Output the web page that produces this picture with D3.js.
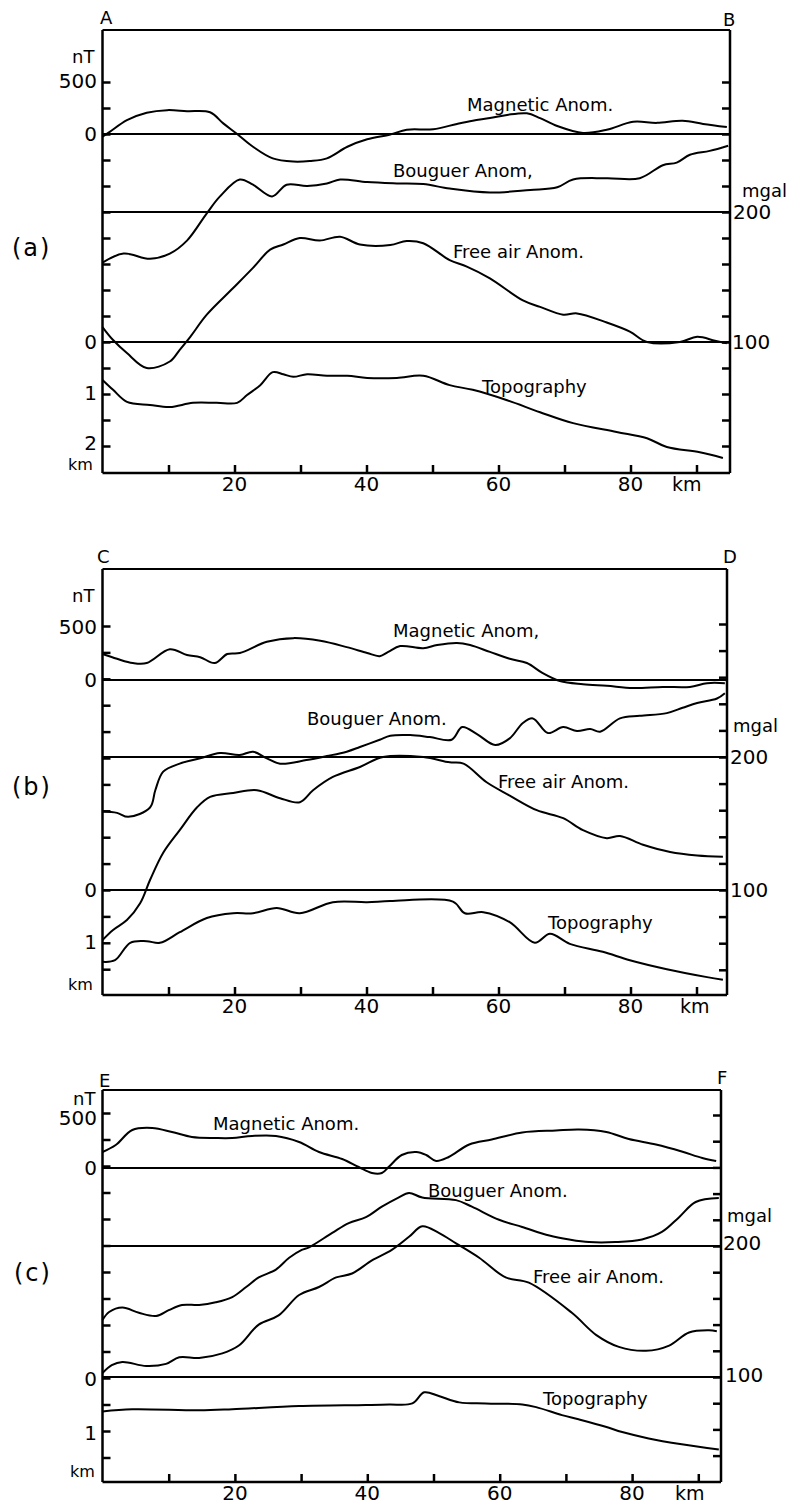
<!DOCTYPE html>
<html><head><meta charset="utf-8">
<script src="https://cdn.jsdelivr.net/npm/d3@7"></script>
<style>
body{margin:0;background:#fff}
svg text{font-family:"DejaVu Sans",sans-serif;fill:#000}
</style>
</head><body>
<svg id="chart" width="790" height="1505"></svg>
<script>
// ---------------- DATA (x in km along profile) ----------------
const xTickValues = [10,20,30,40,50,60,70,80,90];
const xTickLabels = [20,40,60,80];
const curveNamesA = ["Magnetic Anom.","Bouguer Anom,","Free air Anom.","Topography"];
const curveNamesB = ["Magnetic Anom,","Bouguer Anom.","Free air Anom.","Topography"];
const curveNamesC = ["Magnetic Anom.","Bouguer Anom.","Free air Anom.","Topography"];
const cornerLetters = [["A","B"],["C","D"],["E","F"]];
const panelTags = ["(a)","(b)","(c)"];

// Profile A-B
const magA = [[0,-25],[1.1,20],[3.7,130],[6.7,200],[9.8,225],[12.8,215],[16.3,205],[18.3,100],[20.4,0],[22.8,-120],[25.8,-230],[28.9,-260],[31.4,-255],[34.0,-230],[37.1,-120],[40.1,-50],[43.6,-5],[46.1,40],[50.1,45],[53.7,95],[56.1,125],[58.7,150],[61.3,180],[64.3,195],[66.3,150],[68.9,75],[72.8,10],[76.4,40],[80.4,115],[84.0,105],[87.9,125],[91.0,95],[94.6,65]];
const bougA = [[0,161],[3.2,168],[7.2,164],[10.2,168],[12.8,178],[15.8,199],[17.8,212],[20.8,225],[22.8,221],[25.7,212],[27.9,221],[31.0,220],[34.0,222],[36.0,225],[40.1,223],[44.6,222],[48.6,221.5],[52.6,218],[58.7,215],[64.8,217],[68.9,219],[71.3,225],[76.4,226],[81.4,226],[84.9,236],[87.0,238],[89.0,244],[92.0,247],[94.8,251]];
const freeA = [[0,111.5],[1.6,101.5],[3.7,91.5],[6.7,80],[10.2,85],[11.7,94],[13.3,104],[15.8,121],[19.8,141.5],[22.8,157],[25.4,171],[27.4,175],[29.9,180],[32.9,178],[36.0,181],[39.0,175],[43.6,174.6],[46.1,177.7],[48.6,176],[52.6,163],[55.2,158],[58.7,149],[63.7,132],[66.3,127],[69.8,121],[71.9,122],[76.4,115],[79.9,108],[82.5,100],[87.5,100],[90.1,104],[92.8,101],[94.6,99]];
const topoA = [[0,0.73],[1.6,0.92],[3.7,1.15],[7.2,1.21],[10.2,1.25],[13.7,1.17],[17.3,1.17],[20.4,1.17],[21.9,1.02],[23.9,0.83],[25.8,0.58],[27.4,0.62],[28.9,0.67],[31.0,0.62],[34.0,0.65],[37.1,0.65],[40.1,0.69],[44.6,0.69],[48.6,0.65],[52.6,0.83],[56.1,0.92],[61.3,1.12],[66.3,1.35],[71.3,1.56],[77.9,1.73],[82.5,1.85],[85.5,2.02],[90.5,2.12],[94.0,2.23]];

// Profile C-D
const magB = [[0,245],[2.2,200],[4.6,160],[6.7,160],[10.2,290],[12.8,235],[14.8,215],[17.0,160],[18.9,245],[20.8,255],[24.9,360],[28.9,395],[33.0,370],[37.0,310],[40.1,255],[42.0,225],[43.3,265],[45.1,320],[48.6,300],[50.7,330],[53.7,350],[55.7,330],[58.7,265],[61.7,200],[64.3,160],[66.7,65],[69.3,-10],[72.8,-40],[76.4,-55],[80.4,-75],[84.9,-65],[89.0,-65],[91.6,-30],[94.3,-30]];
const bougB = [[0,159],[2.2,158],[3.9,155],[7.2,162],[8.0,175],[9.2,189],[11.7,195],[14.8,199],[17.8,203],[20.8,201.5],[22.8,204],[24.9,199],[26.9,195],[30.9,197.7],[34.0,200.7],[37.0,204],[39.0,207.5],[42.0,213],[43.6,216],[46.6,216.5],[49.6,215],[52.9,213],[54.5,222.5],[56.8,217],[59.5,209],[61.7,214],[63.7,225.6],[65.2,229],[67.5,218],[69.8,222.5],[71.9,219.5],[73.9,221],[75.4,219],[78.4,229],[81.4,231],[85.5,233],[87.9,237],[90.1,240.6],[93.1,244],[94.3,248]];
const freeB = [[0,62.4],[1.6,70],[3.7,77.4],[5.7,90],[7.2,107.5],[9.2,128],[11.7,145],[14.3,162],[16.3,170],[19.8,173],[23.4,175],[26.9,169],[29.9,166],[31.9,175],[34.9,185],[39.0,192.5],[42.5,200],[48.6,200],[52.6,196],[54.7,195],[58.2,181],[61.7,171],[65.8,160],[69.8,154],[72.8,145],[76.4,139],[78.4,140.6],[81.9,134],[86.0,128.6],[90.1,126],[94.0,125]];
const topoB = [[0,1.36],[1.9,1.33],[4.2,1.0],[6.7,0.97],[8.7,1.0],[11.7,0.8],[15.8,0.53],[19.8,0.44],[22.8,0.44],[26.4,0.34],[29.9,0.44],[34.9,0.23],[40.1,0.23],[43.6,0.21],[53.1,0.22],[54.9,0.44],[57.7,0.42],[61.7,0.61],[65.5,1.0],[67.8,0.83],[70.8,1.02],[75.8,1.17],[79.9,1.33],[85.5,1.5],[91.6,1.65],[94.0,1.7]];

// Profile E-F
const magC = [[0,160],[2.0,230],[4.5,380],[7.5,400],[10.5,360],[13.5,310],[17.1,300],[19.6,300],[22.6,320],[26.2,320],[29.7,260],[32.7,160],[36.2,90],[38.7,10],[40.7,-50],[42.2,-50],[43.3,15],[45.2,130],[47.4,160],[48.9,130],[50.4,70],[52.3,110],[55.4,235],[58.8,285],[63.4,355],[68.5,375],[72.0,385],[76.1,360],[79.5,290],[83.6,235],[87.5,165],[90.6,100],[92.7,70]];
const bougC = [[0,143.5],[1.0,149.6],[3.0,153],[5.5,149],[8.1,146.6],[10.0,151],[12.0,155],[14.6,155],[17.1,157],[19.6,161],[21.7,168.7],[23.6,176],[26.2,182],[28.2,191],[30.1,197],[31.2,199],[34.7,210],[37.2,217.5],[39.8,222],[42.2,230],[44.7,237],[46.3,240.5],[48.3,237],[53.4,235],[55.8,230],[59.9,220],[63.4,214.5],[67.5,208],[70.5,205],[73.5,203],[77.5,203],[81.5,205],[84.5,210.7],[87.1,222],[89.6,233.6],[93.1,236.6]];
const freeC = [[0,103],[1.4,109],[3.0,111.5],[6.6,108.4],[9.6,110],[11.6,115],[14.6,114.5],[18.1,118],[20.6,124],[23.6,140],[26.6,147],[29.7,162.6],[32.7,168.7],[35.3,176],[37.7,179],[40.7,189],[43.7,197],[46.3,207],[48.3,215],[50.8,210],[53.4,202],[56.9,191],[60.9,176],[64.4,172],[70.9,149],[74.6,132],[78.0,123],[82.1,120],[85.6,124],[88.6,134],[91.6,135.6],[92.8,135]];
const topoC = [[0,0.63],[4.5,0.59],[14.6,0.61],[19.6,0.59],[29.7,0.53],[39.8,0.51],[43.3,0.5],[46.8,0.48],[48.6,0.27],[50.8,0.34],[53.9,0.46],[57.9,0.48],[63.4,0.5],[65.5,0.55],[69.4,0.7],[71.9,0.78],[76.0,0.92],[78.5,1.02],[82.5,1.14],[87.5,1.25],[93.1,1.35]];

// ---------------- LAYOUT (pixels) ----------------
const layouts = [
  {left:102.5,right:730,top:30,bottom:473,kx:6.6,nT0:134,nT500:81,mg200:212,mg100:342,km0:342,km1:394,mgLo:20,mgHi:300,kmLo:-5,kmHi:2,
   names:curveNamesA, namePos:[[467,111],[393,177],[453,258],[482,393]],
   corners:[[100,24],[723,26]], tag:[12,256],
   nT:[72,63], lab500:81, lab0nT:134, lab0km:342, lab1:393, lab2:443, km:[68,470],
   mgal:[742,197], r200:[733,212], r100:[732,342], xlabY:491, kmX:[672,491]},
  {left:102.5,right:727,top:569,bottom:995,kx:6.6,nT0:680,nT500:627,mg200:757,mg100:890,km0:890,km1:942.8,mgLo:40,mgHi:300,kmLo:-5,kmHi:1.5,
   names:curveNamesB, namePos:[[393,637],[307,725],[498,788],[548,929]],
   corners:[[97,563],[723,563]], tag:[12,795],
   nT:[72,602], lab500:627, lab0nT:680, lab0km:890, lab1:942, lab2:null, km:[68,990],
   mgal:[733,732], r200:[730,757], r100:[730,890], xlabY:1013, kmX:[680,1013]},
  {left:102.5,right:721,top:1090,bottom:1482,kx:6.62,nT0:1168,nT500:1118,mg200:1246,mg100:1377,km0:1378,km1:1431,mgLo:40,mgHi:300,kmLo:-5,kmHi:1.5,
   names:curveNamesC, namePos:[[213,1130],[428,1197],[533,1283],[543,1405]],
   corners:[[99,1087],[717,1084]], tag:[14,1281],
   nT:[73,1105], lab500:1118, lab0nT:1168, lab0km:1379, lab1:1433, lab2:null, km:[70,1477],
   mgal:[727,1222], r200:[723,1243], r100:[725,1375], xlabY:1500, kmX:[675,1500]}
];
const series = [[magA,bougA,freeA,topoA],[magB,bougB,freeB,topoB],[magC,bougC,freeC,topoC]];

const svg = d3.select("#chart");

layouts.forEach((L,i)=>{
  const g = svg.append("g");
  const x = d3.scaleLinear().domain([0,10]).range([L.left, L.left + 10*L.kx]);
  const yNT = d3.scaleLinear().domain([0,500]).range([L.nT0, L.nT500]);
  const yMG = d3.scaleLinear().domain([100,200]).range([L.mg100, L.mg200]);
  const yKM = d3.scaleLinear().domain([0,1]).range([L.km0, L.km1]);
  const [mag,boug,free,topo] = series[i];

  // left ticks (inward)
  g.append("g").attr("transform",`translate(${L.left},0)`)
    .call(d3.axisRight(yKM).tickValues(d3.range(L.kmLo, L.kmHi+0.01, 0.5)).tickSize(8).tickFormat(""))
    .call(a=>a.select(".domain").remove())
    .selectAll("line").attr("stroke","#000").attr("stroke-width",2.5);
  // right ticks (inward)
  g.append("g").attr("transform",`translate(${L.right},0)`)
    .call(d3.axisLeft(yMG).tickValues(d3.range(L.mgLo, L.mgHi+1, 20)).tickSize(8).tickFormat(""))
    .call(a=>a.select(".domain").remove())
    .selectAll("line").attr("stroke","#000").attr("stroke-width",2.5);
  // bottom ticks (inward) + labels
  g.append("g").attr("transform",`translate(0,${L.bottom})`)
    .call(d3.axisTop(x).tickValues(xTickValues).tickSize(8).tickFormat(""))
    .call(a=>a.select(".domain").remove())
    .selectAll("line").attr("stroke","#000").attr("stroke-width",2.5);
  g.selectAll(".xl").data(xTickLabels).join("text")
    .attr("x",d=>x(d)).attr("y",L.xlabY).attr("text-anchor","middle")
    .attr("font-size",20).text(d=>d);
  g.append("text").attr("x",L.kmX[0]).attr("y",L.kmX[1]).attr("font-size",19).text("km");

  // frame
  g.append("line").attr("x1",L.left).attr("x2",L.right).attr("y1",L.top).attr("y2",L.top).attr("stroke","#000").attr("stroke-width",2);
  g.append("line").attr("x1",L.left).attr("x2",L.right).attr("y1",L.bottom).attr("y2",L.bottom).attr("stroke","#000").attr("stroke-width",2.5);
  g.append("line").attr("x1",L.left).attr("x2",L.left).attr("y1",L.top).attr("y2",L.bottom).attr("stroke","#000").attr("stroke-width",2.5);
  g.append("line").attr("x1",L.right).attr("x2",L.right).attr("y1",L.top).attr("y2",L.bottom).attr("stroke","#000").attr("stroke-width",2.5);

  // reference lines
  [yNT(0), yMG(200), yMG(100)].forEach(yy=>{
    g.append("line").attr("x1",L.left).attr("x2",L.right).attr("y1",yy).attr("y2",yy).attr("stroke","#000").attr("stroke-width",2);
  });

  // curves
  const mk = ys => d3.line().x(d=>x(d[0])).y(d=>ys(d[1])).curve(d3.curveCatmullRom.alpha(0.5));
  [[mag,yNT],[boug,yMG],[free,yMG],[topo,yKM]].forEach(([data,ys])=>{
    g.append("path").datum(data).attr("d",mk(ys)).attr("fill","none").attr("stroke","#000").attr("stroke-width",2).attr("stroke-linejoin","round");
  });

  // curve names
  L.names.forEach((nm,k)=>{
    g.append("text").attr("x",L.namePos[k][0]).attr("y",L.namePos[k][1]).attr("font-size",18).text(nm);
  });

  // left labels
  g.append("text").attr("x",L.nT[0]).attr("y",L.nT[1]).attr("font-size",18).text("nT");
  const leftLab = [["500",L.lab500],["0",L.lab0nT],["0",L.lab0km],["1",L.lab1]];
  if (L.lab2!==null) leftLab.push(["2",L.lab2]);
  leftLab.forEach(([t,yy])=>{
    g.append("text").attr("x",97).attr("y",yy).attr("dy","0.36em").attr("text-anchor","end").attr("font-size",20).text(t);
  });
  g.append("text").attr("x",L.km[0]).attr("y",L.km[1]).attr("font-size",16).text("km");
  // right labels
  g.append("text").attr("x",L.mgal[0]).attr("y",L.mgal[1]).attr("font-size",18).text("mgal");
  g.append("text").attr("x",L.r200[0]).attr("y",L.r200[1]).attr("dy","0.36em").attr("font-size",20).text("200");
  g.append("text").attr("x",L.r100[0]).attr("y",L.r100[1]).attr("dy","0.36em").attr("font-size",20).text("100");
  // corners
  g.append("text").attr("x",L.corners[0][0]).attr("y",L.corners[0][1]).attr("font-size",18).text(cornerLetters[i][0]);
  g.append("text").attr("x",L.corners[1][0]).attr("y",L.corners[1][1]).attr("font-size",18).text(cornerLetters[i][1]);
  g.append("text").attr("x",L.tag[0]).attr("y",L.tag[1]).attr("font-size",24).attr("letter-spacing",2).text(panelTags[i]);
});
</script>
</body></html>
